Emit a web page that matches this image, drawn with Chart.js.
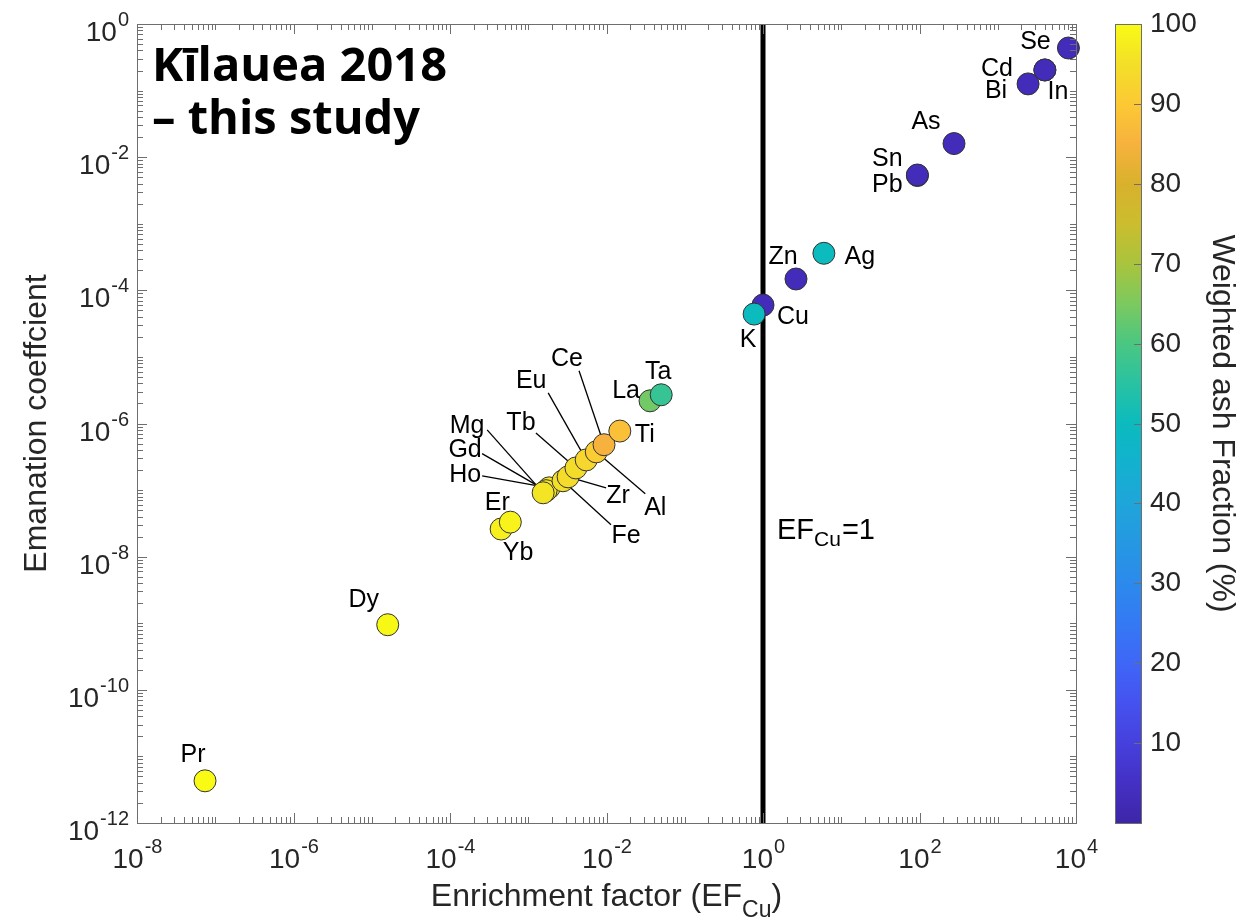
<!DOCTYPE html>
<html>
<head>
<meta charset="utf-8">
<script src="https://cdn.jsdelivr.net/npm/chart.js@4.4.1/dist/chart.umd.min.js"></script>
<style>
  html, body { margin: 0; padding: 0; background: #fff; }
  canvas { display: block; }
</style>
</head>
<body>
<canvas id="efChart" width="1253" height="921"></canvas>
<script>
// Element, EF_Cu, emanation coefficient and weighted ash fraction (%)
const elements    = ['Pr', 'Dy', 'Yb', 'Er', 'Ho', 'Gd', 'Mg', 'Fe', 'Zr', 'Tb', 'Eu', 'Al', 'Ce', 'Ti', 'La', 'Ta', 'Cu', 'K', 'Zn', 'Ag', 'Pb', 'Sn', 'As', 'Bi', 'Cd', 'In', 'Se'];
const enrichment  = [7.4e-8, 1.6e-5, 4.5e-4, 5.9e-4, 1.85e-3, 1.69e-3, 1.55e-3, 2.78e-3, 3.23e-3, 4.07e-3, 5.5e-3, 7.4e-3, 9.3e-3, 1.48e-2, 3.6e-2, 5.0e-2, 1.0, 0.77, 2.64, 6.0, 94, 94, 276, 2440, 4000, 4000, 8000];
const emanation   = [4.3e-12, 9.5e-10, 2.6e-8, 3.3e-8, 1.08e-7, 9.8e-8, 9.1e-8, 1.38e-7, 1.58e-7, 2.15e-7, 2.84e-7, 3.75e-7, 4.8e-7, 7.7e-7, 2.19e-6, 2.7e-6, 6.0e-5, 4.4e-5, 1.48e-4, 3.6e-4, 5.3e-3, 5.4e-3, 1.6e-2, 0.126, 0.204, 0.204, 0.436];
const ashFraction = [100, 99.5, 98, 98.5, 96.5, 96, 96, 95, 94, 94.5, 93, 91, 85, 88, 64, 57, 3, 50, 3, 50, 3, 3, 3, 3, 3, 3, 3];

const xTickExps = [-8, -6, -4, -2, 0, 2, 4];
const yTickExps = [-12, -10, -8, -6, -4, -2, 0];
const colorbarTicks = [10, 20, 30, 40, 50, 60, 70, 80, 90, 100];
const refLine = [{ x: 1, y: 1e-12 }, { x: 1, y: 1 }];

// label placement in pixels relative to each marker: [dx, dy] or with a leader line [dx, dy, lineDx, lineDy]
const labelPos = {
  Pr: [-12, -26], Dy: [-24, -25], Er: [-13, -19], Yb: [17, 24],
  Mg: [-76, -67, -56, -63], Gd: [-81, -41, -64, -37], Ho: [-84, -13, -67, -12],
  Fe: [63, 55, 48, 44], Zr: [50, 19, 38, 11], Tb: [-55, -45, -40, -35],
  Eu: [-55, -79, -38, -67], Al: [59, 56, 49, 42], Ce: [-37, -86, -25, -74],
  Ti: [25, 4], La: [-24, -10], Ta: [-3, -23],
  K: [-6, 26], Cu: [30, 12], Zn: [-13, -22], Ag: [36, 4],
  Sn: [-30, -16], Pb: [-30, 10], As: [-28, -21],
  Bi: [-32, 7], Cd: [-48, -1], In: [13, 22], Se: [-33, -6]
};

// parula-like colormap used for the colorbar and the markers
const cmapStops = [
  [0, '#3e26a8'], [5, '#4430c4'], [10, '#4640dd'], [15, '#4552ef'], [20, '#3f66f7'],
  [25, '#3479f4'], [30, '#2c8aec'], [35, '#2598e2'], [40, '#1fa5da'], [45, '#13b1cf'],
  [50, '#0bbbbe'], [55, '#29c2a2'], [60, '#4ac781'], [65, '#7cc95f'], [70, '#a9c43d'],
  [75, '#cbbd2e'], [80, '#d9b12c'], [85, '#f7b23e'], [90, '#fcc934'], [95, '#f3df28'], [100, '#f9fb15']
];

function hexRgb(h) {
  return [parseInt(h.slice(1, 3), 16), parseInt(h.slice(3, 5), 16), parseInt(h.slice(5, 7), 16)];
}

function cmap(v) {
  for (let i = 1; i < cmapStops.length; i++) {
    const [v1, c1] = cmapStops[i];
    if (v <= v1) {
      const [v0, c0] = cmapStops[i - 1];
      const t = (v - v0) / (v1 - v0);
      const a = hexRgb(c0), b = hexRgb(c1);
      const c = a.map((ch, k) => Math.round(ch + (b[k] - ch) * t));
      return 'rgb(' + c.join(',') + ')';
    }
  }
  return cmapStops[cmapStops.length - 1][1];
}

const points = elements.map((el, i) => ({ x: enrichment[i], y: emanation[i], el: el }));
const FONT = '"Liberation Sans", Arial, Helvetica, sans-serif';
const INK = '#262626';

// 10 with a raised exponent
function powText(ctx, exp, x, base, align) {
  const big = '28px ' + FONT, small = '20px ' + FONT;
  ctx.font = big;
  const w1 = ctx.measureText('10').width;
  ctx.font = small;
  const w2 = ctx.measureText(String(exp)).width;
  let x0 = align === 'center' ? x - (w1 + w2) / 2 : x - (w1 + w2);
  ctx.textAlign = 'left';
  ctx.textBaseline = 'alphabetic';
  ctx.font = big;
  ctx.fillText('10', x0, base);
  ctx.font = small;
  ctx.fillText(String(exp), x0 + w1 + 1, base - 15);
}

const leaderLines = {
  id: 'leaderLines',
  beforeDatasetsDraw(chart) {
    const { ctx } = chart;
    const meta = chart.getDatasetMeta(0);
    ctx.save();
    ctx.strokeStyle = '#000';
    ctx.lineWidth = 1.3;
    meta.data.forEach((pt, i) => {
      const p = labelPos[elements[i]];
      if (!p || p.length < 4) return;
      ctx.beginPath();
      ctx.moveTo(pt.x + p[2], pt.y + p[3]);
      ctx.lineTo(pt.x, pt.y);
      ctx.stroke();
    });
    ctx.restore();
  }
};

const decorations = {
  id: 'decorations',
  afterDatasetsDraw(chart) {
    const { ctx, chartArea: a, scales: { x, y } } = chart;
    ctx.save();

    // element labels
    ctx.fillStyle = '#000';
    ctx.font = '25px ' + FONT;
    ctx.textAlign = 'center';
    ctx.textBaseline = 'middle';
    chart.getDatasetMeta(0).data.forEach((pt, i) => {
      const p = labelPos[elements[i]];
      if (p) ctx.fillText(elements[i], pt.x + p[0], pt.y + p[1]);
    });

    // axes box with inward ticks on all four sides
    ctx.strokeStyle = '#6e6e6e';
    ctx.lineWidth = 1;
    ctx.strokeRect(Math.round(a.left) + 0.5, Math.round(a.top) + 0.5, Math.round(a.width), Math.round(a.height));
    ctx.beginPath();
    for (let e = -8; e < 4; e++) {
      for (let m = 1; m <= 9; m++) {
        const v = m * Math.pow(10, e);
        const px = Math.round(x.getPixelForValue(v)) + 0.5;
        const len = (m === 1 && xTickExps.includes(e)) ? 10 : 6;
        ctx.moveTo(px, a.bottom); ctx.lineTo(px, a.bottom - len);
        ctx.moveTo(px, a.top); ctx.lineTo(px, a.top + len);
      }
    }
    for (let e = -12; e < 0; e++) {
      for (let m = 1; m <= 9; m++) {
        const v = m * Math.pow(10, e);
        const py = Math.round(y.getPixelForValue(v)) + 0.5;
        const len = (m === 1 && yTickExps.includes(e)) ? 10 : 6;
        ctx.moveTo(a.left, py); ctx.lineTo(a.left + len, py);
        ctx.moveTo(a.right, py); ctx.lineTo(a.right - len, py);
      }
    }
    ctx.stroke();

    // tick labels
    ctx.fillStyle = INK;
    xTickExps.forEach(e => powText(ctx, e, x.getPixelForValue(Math.pow(10, e)), a.bottom + 45, 'center'));
    yTickExps.forEach(e => powText(ctx, e, a.left - 9, y.getPixelForValue(Math.pow(10, e)) + 17, 'right'));

    // axis titles
    const labelFont = '32px ' + FONT, subFont = '23px ' + FONT;
    ctx.font = labelFont;
    const t1 = 'Enrichment factor (EF', t2 = 'Cu', t3 = ')';
    const w1 = ctx.measureText(t1).width, w3 = ctx.measureText(t3).width;
    ctx.font = subFont;
    const w2 = ctx.measureText(t2).width;
    let xs = (a.left + a.right) / 2 - (w1 + w2 + w3) / 2;
    ctx.textAlign = 'left';
    ctx.textBaseline = 'alphabetic';
    ctx.font = labelFont;
    ctx.fillText(t1, xs, 906);
    ctx.font = subFont;
    ctx.fillText(t2, xs + w1, 917);
    ctx.font = labelFont;
    ctx.fillText(t3, xs + w1 + w2, 906);

    ctx.save();
    ctx.translate(37, (a.top + a.bottom) / 2);
    ctx.rotate(-Math.PI / 2);
    ctx.textAlign = 'center';
    ctx.textBaseline = 'middle';
    ctx.fillText('Emanation coeffcient', 0, 0);
    ctx.restore();

    // reference line label
    ctx.fillStyle = '#000';
    const lx = x.getPixelForValue(1) + 14;
    ctx.font = '29px ' + FONT;
    ctx.fillText('EF', lx, 539);
    const we = ctx.measureText('EF').width;
    ctx.font = '21px ' + FONT;
    ctx.fillText('Cu', lx + we, 546);
    const wc = ctx.measureText('Cu').width;
    ctx.font = '29px ' + FONT;
    ctx.fillText('=1', lx + we + wc + 1, 539);

    // study label
    ctx.font = 'bold 47px "Open Sans", "Noto Sans", sans-serif';
    ctx.fillText('Kīlauea 2018', a.left + 15, 81);
    ctx.fillText('– this study', a.left + 15, 134);

    // colorbar
    const cbL = 1115, cbW = 26;
    const grad = ctx.createLinearGradient(0, a.bottom, 0, a.top);
    cmapStops.forEach(([v, c]) => grad.addColorStop(v / 100, c));
    ctx.fillStyle = grad;
    ctx.fillRect(cbL, a.top, cbW, a.bottom - a.top);
    ctx.strokeStyle = '#6e6e6e';
    ctx.strokeRect(cbL + 0.5, Math.round(a.top) + 0.5, cbW, Math.round(a.bottom - a.top));
    ctx.beginPath();
    ctx.fillStyle = INK;
    ctx.font = '28px ' + FONT;
    ctx.textBaseline = 'middle';
    colorbarTicks.forEach(v => {
      const py = Math.round(a.bottom - (a.bottom - a.top) * v / 100) + 0.5;
      ctx.moveTo(cbL + cbW, py); ctx.lineTo(cbL + cbW - 7, py);
      ctx.fillText(String(v), cbL + cbW + 9, py);
    });
    ctx.stroke();

    ctx.font = labelFont;
    ctx.translate(1222, (a.top + a.bottom) / 2);
    ctx.rotate(Math.PI / 2);
    ctx.textAlign = 'center';
    ctx.fillText('Weighted ash Fraction (%)', 0, 0);
    ctx.restore();
  }
};

new Chart(document.getElementById('efChart'), {
  type: 'scatter',
  data: {
    datasets: [
      {
        label: 'Elements',
        data: points,
        backgroundColor: ashFraction.map(cmap),
        borderColor: '#333',
        borderWidth: 1,
        pointRadius: 11,
        pointHoverRadius: 11,
        clip: false,
        order: 1
      },
      {
        type: 'line',
        label: 'EF_Cu = 1',
        data: refLine,
        borderColor: '#000',
        borderWidth: 5,
        pointRadius: 0,
        order: 2
      }
    ]
  },
  options: {
    responsive: false,
    animation: false,
    devicePixelRatio: 1,
    layout: { padding: { left: 137, right: 177, top: 24, bottom: 98 } },
    scales: {
      x: { type: 'logarithmic', min: 1e-8, max: 1e4, display: false },
      y: { type: 'logarithmic', min: 1e-12, max: 1, display: false }
    },
    plugins: {
      legend: { display: false },
      tooltip: { enabled: false }
    }
  },
  plugins: [leaderLines, decorations]
});
</script>
</body>
</html>
